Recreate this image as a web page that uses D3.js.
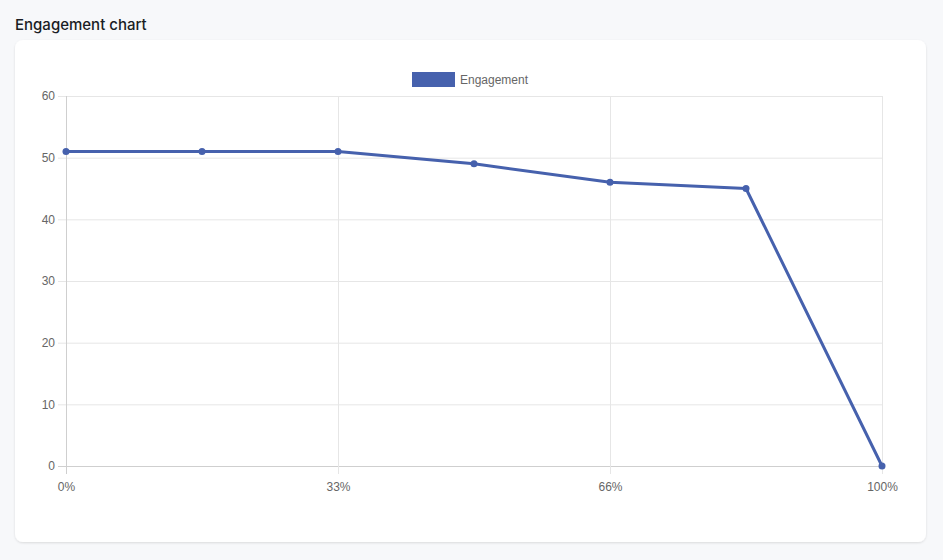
<!DOCTYPE html>
<html lang="en">
<head>
  <meta charset="UTF-8">
  <title>Engagement chart</title>
  <script src="https://d3js.org/d3.v7.min.js"></script>
  <style>
    html, body { margin: 0; padding: 0; background: #f7f8fa; }
    body { width: 943px; height: 560px; overflow: hidden; font-family: "Helvetica Neue", Arial, "Liberation Sans", sans-serif; }
  </style>
</head>
<body>
  <svg id="chart" width="943" height="560"></svg>

  <script>
    // data
    const seriesName = 'Engagement';
    const values = [51, 51, 51, 49, 46, 45, 0];
    const xTickIndex = [0, 2, 4, 6];
    const xTickLabels = ['0%', '33%', '66%', '100%'];
    const yTicks = [0, 10, 20, 30, 40, 50, 60];

    const svg = d3.select('#chart');
    const lineColor = '#4661ad';
    const font = '"Helvetica Neue", Arial, "Liberation Sans", sans-serif';

    // title
    svg.append('text')
      .attr('x', 15).attr('y', 30)
      .attr('font-size', 15).attr('font-weight', 500)
      .attr('font-family', 'Inter, Roboto, sans-serif')
      .attr('fill', '#1a1d24')
      .text('Engagement chart');

    // card
    const defs = svg.append('defs');
    const f = defs.append('filter').attr('id', 'shadow').attr('x', '-5%').attr('y', '-5%').attr('width', '110%').attr('height', '110%');
    f.append('feDropShadow').attr('dx', 0).attr('dy', 1).attr('stdDeviation', 1.2)
      .attr('flood-color', '#000').attr('flood-opacity', 0.12);
    svg.append('rect')
      .attr('x', 15).attr('y', 40).attr('width', 911).attr('height', 502)
      .attr('rx', 8).attr('fill', '#fff').attr('filter', 'url(#shadow)');

    const plotLeft = 66, plotRight = 882, plotTop = 96, plotBottom = 466;

    const x = d3.scaleLinear().domain([0, values.length - 1]).range([plotLeft, plotRight]);
    const y = d3.scaleLinear().domain([0, 60]).range([plotBottom, plotTop]);

    // horizontal grid + y axis
    const yAxis = d3.axisLeft(y).tickValues(yTicks).tickSize(-(plotRight - plotLeft)).tickPadding(11);
    const gy = svg.append('g').attr('transform', `translate(${plotLeft},0)`).call(yAxis);
    gy.select('.domain').remove();
    gy.selectAll('.tick line').attr('stroke', d => d === 0 ? '#cfcfcf' : '#e6e6e6').attr('x1', -8);
    gy.selectAll('.tick text').attr('fill', '#666').attr('font-size', 12).attr('font-family', font);

    // vertical grid + x axis
    const xAxis = d3.axisBottom(x).tickValues(xTickIndex)
      .tickFormat((d, i) => xTickLabels[i])
      .tickSize(-(plotBottom - plotTop)).tickPadding(16);
    const gx = svg.append('g').attr('transform', `translate(0,${plotBottom})`).call(xAxis);
    gx.select('.domain').remove();
    gx.selectAll('.tick line').attr('stroke', d => d === 0 ? '#cfcfcf' : '#e6e6e6').attr('y1', 8);
    gx.selectAll('.tick text').attr('fill', '#666').attr('font-size', 12).attr('font-family', font);

    // line
    const line = d3.line().x((d, i) => x(i)).y(d => y(d));
    svg.append('path')
      .datum(values)
      .attr('d', line)
      .attr('fill', 'none')
      .attr('stroke', lineColor)
      .attr('stroke-width', 3)
      .attr('stroke-linejoin', 'round');

    svg.selectAll('circle.pt')
      .data(values)
      .join('circle')
      .attr('class', 'pt')
      .attr('cx', (d, i) => x(i))
      .attr('cy', d => y(d))
      .attr('r', 3.5)
      .attr('fill', lineColor);

    // legend
    svg.append('rect')
      .attr('x', 412).attr('y', 72).attr('width', 43).attr('height', 15)
      .attr('fill', lineColor);
    svg.append('text')
      .attr('x', 460).attr('y', 84)
      .attr('font-size', 12).attr('fill', '#666').attr('font-family', font)
      .text(seriesName);
  </script>
</body>
</html>
